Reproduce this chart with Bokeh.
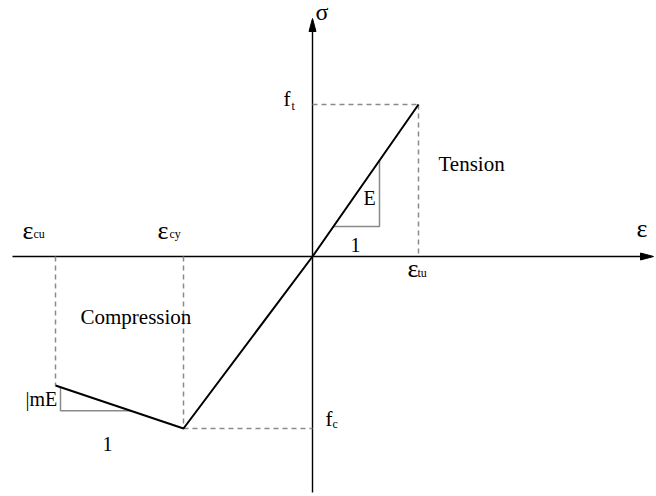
from bokeh.plotting import figure
from bokeh.models import Range1d, Label
from bokeh.embed import file_html
from bokeh.resources import INLINE

# ---- data (strain / stress, arbitrary units) ----
eps_points = [-257, -129, 0, 106]      # eps_cu, eps_cy, 0, eps_tu
sig_points = [-129, -172, 0, 152]      # sigma at eps_cu, f_c, 0, f_t
eps_cu, eps_cy, eps_tu = -257, -129, 106
f_c, f_t = -172, 152
axis_x = [-300, 339]
axis_y = [-236, 236]
tri_E_x = [21, 67]          # slope triangle (tension branch)
tri_m_x = [-252, -182]      # slope triangle (softening branch)

FONT = "'Liberation Serif', 'Times New Roman', serif"
GRAY = "#8a8a8a"

p = figure(width=656, height=496, x_range=Range1d(-312, 344), y_range=Range1d(-240, 256),
           x_axis_type=None, y_axis_type=None, toolbar_location=None,
           output_backend="svg", min_border=0, outline_line_color=None,
           background_fill_color="white", border_fill_color="white")

# axes
p.line(axis_x, [0, 0], line_color="black", line_width=1.4)
p.line([0, 0], axis_y, line_color="black", line_width=1.4)
xe, ye = axis_x[1], axis_y[1]
p.patch([xe + 2, xe - 11, xe - 11], [0, 3.5, -3.5], fill_color="black", line_color="black")
p.patch([0, -3.5, 3.5], [ye + 2, ye - 11, ye - 11], fill_color="black", line_color="black")

# dashed guides
dash = dict(line_color=GRAY, line_width=1.5, line_dash="5 4")
p.line([0, eps_tu], [f_t, f_t], **dash)
p.line([eps_tu, eps_tu], [f_t, 0], **dash)
p.line([eps_cy, 0], [f_c, f_c], **dash)
p.line([eps_cy, eps_cy], [0, f_c], **dash)
p.line([eps_cu, eps_cu], [0, sig_points[0]], **dash)

# slope triangles
kE = f_t / eps_tu
yE0, yE1 = kE * tri_E_x[0], kE * tri_E_x[1]
p.line([tri_E_x[0], tri_E_x[1], tri_E_x[1]], [yE0, yE0, yE1], line_color=GRAY, line_width=1.5)
km = (sig_points[0] - f_c) / (eps_cu - eps_cy)
ym0 = f_c + km * (tri_m_x[0] - eps_cy)
ym1 = f_c + km * (tri_m_x[1] - eps_cy)
p.line([tri_m_x[0], tri_m_x[0], tri_m_x[1]], [ym0, ym1, ym1], line_color=GRAY, line_width=1.5)

# stress-strain curve
p.line(eps_points, sig_points, line_color="black", line_width=2)

SHIFT = -7


def lab(x, y, text, dx, dy, size, align="left"):
    p.add_layout(Label(x=x, y=y, text=text, x_offset=dx, y_offset=-(dy + SHIFT),
                       text_font=FONT, text_font_size=f"{size}px", text_color="black",
                       text_align=align, text_baseline="alphabetic"))


lab(0, ye, "σ", 3, -2, 24)
lab(xe, 0, "ε", -15, -21, 26)
lab(0, f_t, "f", -29, 1, 21)
lab(0, f_t, "t", -21, 8, 12)
lab(0, f_c, "f", 13, -3, 21)
lab(0, f_c, "c", 20, 2, 12)
lab(eps_tu, 0, "ε", -11, 19, 26)
lab(eps_tu, 0, "tu", -1, 23, 12)
lab(eps_cy, 0, "ε", -26, -19, 26)
lab(eps_cy, 0, "cy", -14, -16, 12)
lab(eps_cu, 0, "ε", -33, -19, 26)
lab(eps_cu, 0, "cu", -22, -16, 12)
lab(eps_tu, 0, "Tension", 20, -86, 21)
lab(eps_cy, 0, "Compression", -103, 67, 21)
lab(tri_E_x[1], yE0, "E", -16, -21, 20)
lab((tri_E_x[0] + tri_E_x[1]) / 2, yE0, "1", -1, 26, 20, "center")
lab(tri_m_x[0], ym1, "|mE", -35, -5, 20)
lab((tri_m_x[0] + tri_m_x[1]) / 2, ym1, "1", 12, 40, 20, "center")

open("out.html", "w").write(file_html(p, INLINE))
